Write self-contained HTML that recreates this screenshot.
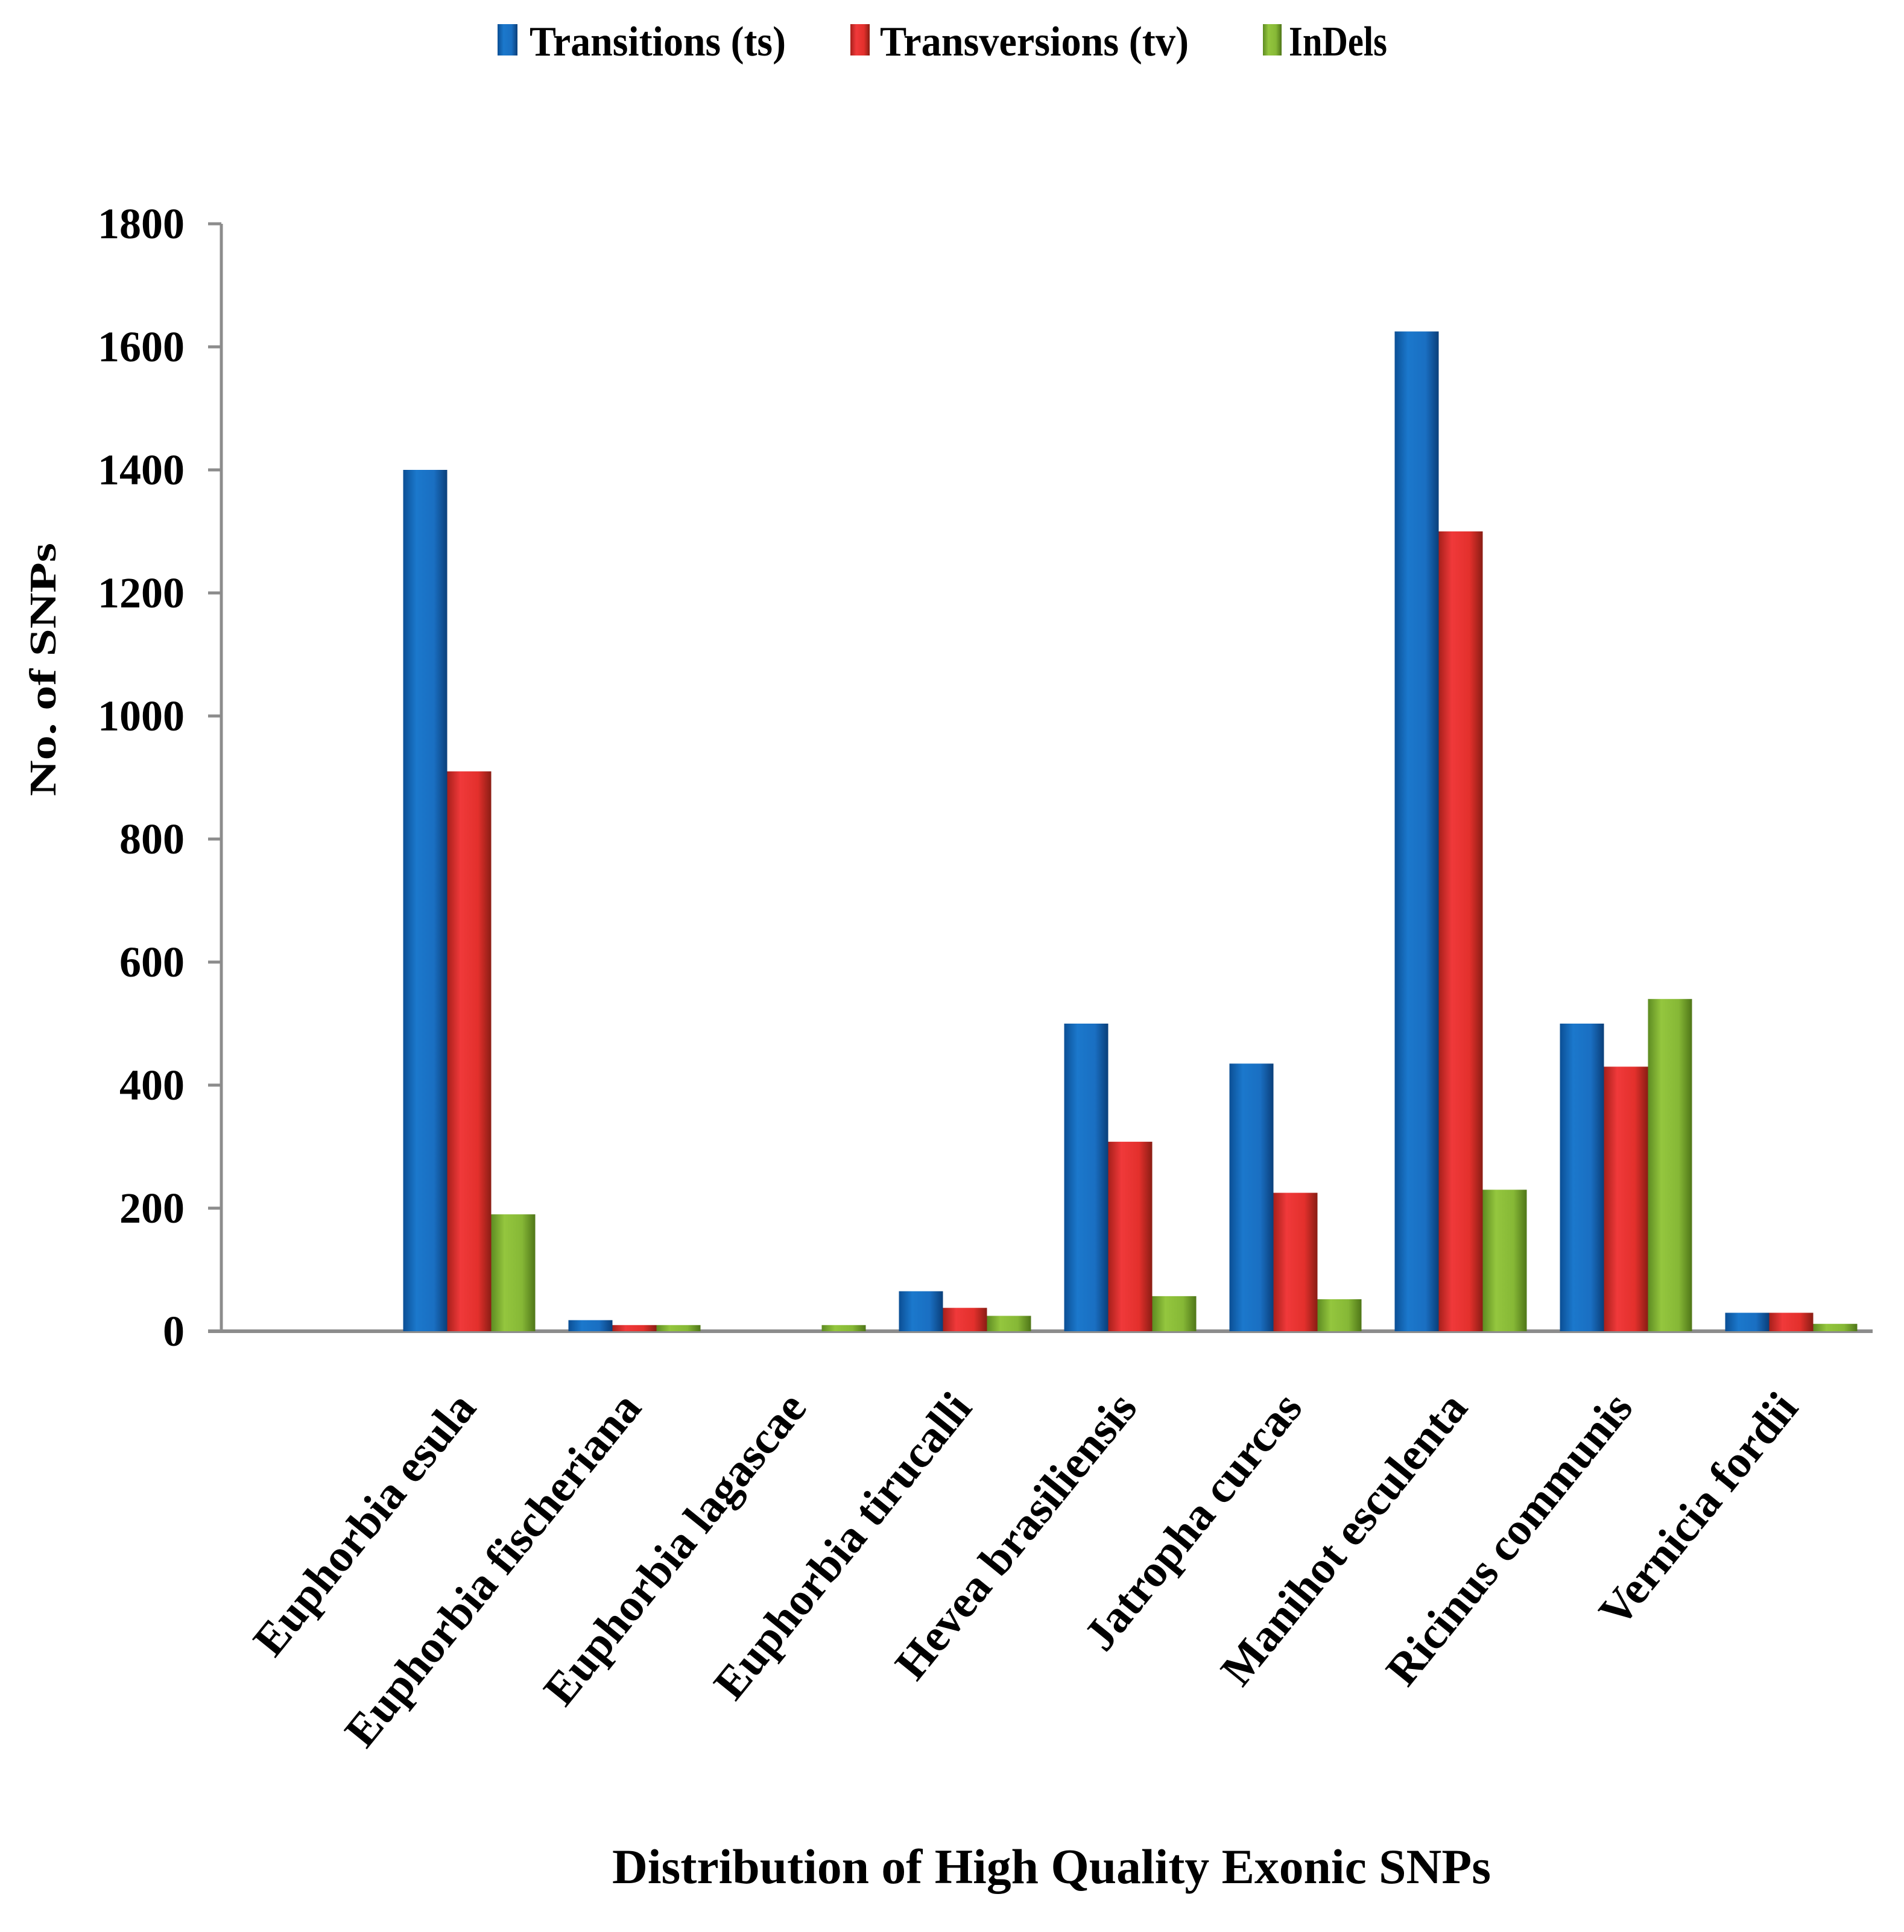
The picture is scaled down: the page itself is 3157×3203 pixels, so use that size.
<!DOCTYPE html>
<html><head><meta charset="utf-8">
<style>html,body{margin:0;padding:0;background:#fff;}svg{display:block;}</style>
</head><body>
<svg id="chart" width="3157" height="3203" viewBox="0 0 3157 3203" xmlns="http://www.w3.org/2000/svg" font-family="'Liberation Serif', serif" font-weight="bold">
<defs>
<linearGradient id="gb" x1="0" x2="1" y1="0" y2="0"><stop offset="0" stop-color="#0b4f95"/><stop offset="0.3" stop-color="#1b78cc"/><stop offset="0.7" stop-color="#1a6fc2"/><stop offset="1" stop-color="#0a3f7a"/></linearGradient>
<linearGradient id="gr" x1="0" x2="1" y1="0" y2="0"><stop offset="0" stop-color="#a8201b"/><stop offset="0.3" stop-color="#f0393a"/><stop offset="0.7" stop-color="#e3302c"/><stop offset="1" stop-color="#8a1d14"/></linearGradient>
<linearGradient id="gg" x1="0" x2="1" y1="0" y2="0"><stop offset="0" stop-color="#5e8c22"/><stop offset="0.3" stop-color="#94c63e"/><stop offset="0.7" stop-color="#86b836"/><stop offset="1" stop-color="#4f7618"/></linearGradient>
</defs>
<g id="legend">
<rect x="825" y="40" width="33" height="52" fill="url(#gb)"/>
<text x="878" y="92" font-size="70" textLength="425" lengthAdjust="spacingAndGlyphs">Transitions (ts)</text>
<rect x="1410" y="40" width="32" height="52" fill="url(#gr)"/>
<text x="1459" y="92" font-size="70" textLength="512" lengthAdjust="spacingAndGlyphs">Transversions (tv)</text>
<rect x="2094" y="40" width="31" height="52" fill="url(#gg)"/>
<text x="2137" y="92" font-size="70" textLength="163" lengthAdjust="spacingAndGlyphs">InDels</text>
</g>
<text transform="translate(92,1110) rotate(-90)" text-anchor="middle" font-size="62" textLength="420" lengthAdjust="spacingAndGlyphs">No. of SNPs</text>
<text x="1015" y="3122" font-size="82" textLength="1457" lengthAdjust="spacingAndGlyphs">Distribution of High Quality Exonic SNPs</text>
<g id="axes"></g>
<g id="bars"></g>
<g id="xlabels"></g>
</svg>
<script>
const categories = ["Euphorbia esula","Euphorbia fischeriana","Euphorbia lagascae","Euphorbia tirucalli","Hevea brasiliensis","Jatropha curcas","Manihot esculenta","Ricinus communis","Vernicia fordii"];
const transitions = [1400, 18, 0, 65, 500, 435, 1625, 500, 30];
const transversions = [910, 10, 0, 38, 308, 225, 1300, 430, 30];
const indels = [190, 10, 10, 25, 57, 52, 230, 540, 12];
const yTicks = [0, 200, 400, 600, 800, 1000, 1200, 1400, 1600, 1800];

const NS = "http://www.w3.org/2000/svg";
const x0 = 367, xEnd = 3105, y0 = 2207, yTop = 371, yMax = 1800;
const catW = 274, barW = 73;
function yScale(v){ return y0 - (v / yMax) * (y0 - yTop); }
function xCenter(i){ return x0 + catW * (i + 1.5); }
function mk(tag, attrs, parent){ const e = document.createElementNS(NS, tag); for (const k in attrs) e.setAttribute(k, attrs[k]); parent.appendChild(e); return e; }

const axes = document.getElementById('axes');
let yl = mk('line', {x1:x0, y1:yTop, x2:x0, y2:y0, stroke:'#8c8c8c', 'stroke-width':5}, axes);


yTicks.forEach(t => {
  const y = yScale(t);
  let tk = mk('line', {x1:x0-22, y1:y, x2:x0, y2:y, stroke:'#8c8c8c', 'stroke-width':5}, axes);
  
  
  let lb = mk('text', {x:306, y:y+24, 'text-anchor':'end', 'font-size':72}, axes);
  lb.textContent = t;
  
  
});

const bars = document.getElementById('bars');
const series = [[transitions,'url(#gb)','transitions'],[transversions,'url(#gr)','transversions'],[indels,'url(#gg)','indels']];
categories.forEach((c, i) => {
  series.forEach((s, j) => {
    const v = s[0][i];
    if (v <= 0) return;
    const x = xCenter(i) - 1.5*barW + j*barW;
    const y = yScale(v);
    let r = mk('rect', {x:x, y:y, width:barW, height:y0-y, fill:s[1]}, bars);
    
    
  });
});
let xl = mk('line', {x1:x0-22, y1:y0, x2:xEnd, y2:y0, stroke:'#8c8c8c', 'stroke-width':6}, axes);



const xlabels = document.getElementById('xlabels');
categories.forEach((c, i) => {
  const ax = xCenter(i) + 14, ay = 2335;
  let t = mk('text', {transform:'translate(' + ax + ',' + ay + ') rotate(-51)', 'text-anchor':'end', 'font-size':76}, xlabels);
  t.textContent = c;
  
  
});
</script>
</body></html>
